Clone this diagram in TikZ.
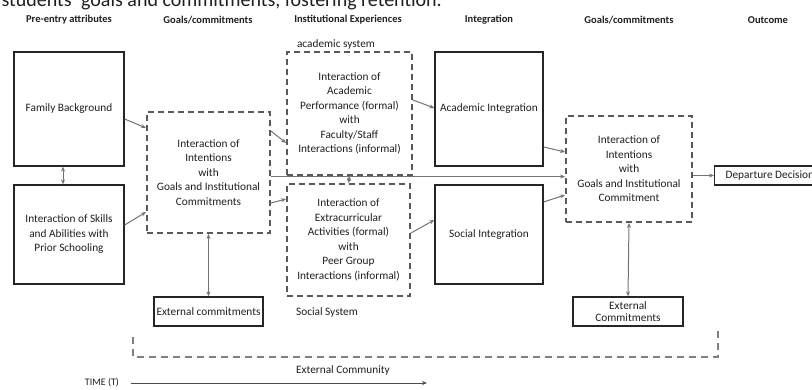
\documentclass[tikz,border=0pt]{standalone}
\usepackage{fontspec}
\setmainfont{Carlito}
\usetikzlibrary{arrows.meta}

\begin{document}
\begin{tikzpicture}[x=1pt, y=-1pt,
    every node/.style={font=\fontsize{11.3}{14.5}\selectfont, text=black!88},
    box/.style={draw=black!85, line width=1.3pt, align=center, inner sep=2pt},
    dashbox/.style={draw=black!65, line width=1.8pt, dash pattern=on 6pt off 4pt, align=center},
    header/.style={font=\fontsize{10.5}{12}\bfseries\selectfont},
    link/.style={draw=black!55, line width=1pt, -{Stealth[length=5pt, width=4pt]}},
    duallink/.style={link, {Stealth[length=5pt, width=4pt]}-{Stealth[length=5pt, width=4pt]}},
    community/.style={draw=black!50, line width=1.5pt, dash pattern=on 7pt off 5pt}]
        \useasboundingbox (0,0) rectangle (812,389);

        % cut-off caption line above the figure
        \node[anchor=base west, font=\fontsize{20}{24}\selectfont] (caption) at (-2,6)
            {students’ goals and commitments, fostering retention.};

        % column headers
        \node[header] (hpre) at (69,20) {Pre-entry attributes};
        \node[header] (hgoals) at (208,20) {Goals/commitments};
        \node[header] (hinst) at (348,20) {Institutional Experiences};
        \node[header] (hinteg) at (489,20) {Integration};
        \node[header] (hgoalsr) at (629,20) {Goals/commitments};
        \node[header] (hout) at (768,20) {Outcome};

        % pre-entry attributes
        \node[box, minimum width=110, minimum height=114] (famback) at (69,109) {Family Background};
        \node[box, minimum width=110, minimum height=99] (skills) at (69,234.5)
            {Interaction of Skills\\and Abilities with\\Prior Schooling};

        % goals and commitments
        \node[dashbox, minimum width=123, minimum height=121] (goalsl) at (208.5,172.5)
            {Interaction of\\Intentions\\with\\Goals and Institutional\\Commitments};
        \node[box, minimum width=109, minimum height=29] (extl) at (208.5,311.5) {External commitments};

        % institutional experiences
        \node (acsys) at (336,44) {academic system};
        \node[dashbox, minimum width=125, minimum height=123] (acad) at (349.5,113.5)
            {Interaction of\\Academic\\Performance (formal)\\with\\Faculty/Staff\\Interactions (informal)};
        \node[dashbox, minimum width=123, minimum height=112] (extra) at (348.5,240)
            {Interaction of\\Extracurricular\\Activities (formal)\\with\\Peer Group\\Interactions (informal)};
        \node (socsys) at (327,312) {Social System};

        % integration
        \node[box, minimum width=108, minimum height=114] (acint) at (489,109) {Academic Integration};
        \node[box, minimum width=108, minimum height=99] (socint) at (489,234.5) {Social Integration};

        % goals and commitments, later
        \node[dashbox, minimum width=126, minimum height=106] (goalsr) at (629,169)
            {Interaction of\\Intentions\\with\\Goals and Institutional\\Commitment};
        \node[box, minimum width=110, minimum height=29] (extr) at (628,311.5) {External\\[-2.5pt]Commitments};

        % outcome
        \node[box, anchor=west, inner xsep=11pt, minimum height=19] (depart) at (714,175.5) {Departure Decision};

        % connectors
        \draw[duallink] ([xshift=-6pt]famback.south) -- ([xshift=-6pt]skills.north);
        \draw[link] ([yshift=-10pt]famback.east) -- ([yshift=44.5pt]goalsl.west);
        \draw[link] ([yshift=9.5pt]skills.east) -- ([yshift=-39.5pt]goalsl.west);
        \draw[duallink] (goalsl.south) -- (extl.north);
        \draw[link] ([yshift=41.5pt]goalsl.east) -- ([yshift=-29.5pt]acad.west);
        \draw[link] ([yshift=-30.5pt]goalsl.east) -- ([yshift=41pt]extra.west);
        \draw[duallink] (acad.south) -- (extra.north);
        \draw[link] ([yshift=-4pt]goalsl.east) -- ([yshift=-4pt]goalsl.east -| goalsr.west);
        \draw[link] ([yshift=13.5pt]acad.east) -- ([yshift=1pt]acint.west);
        \draw[link] ([yshift=7pt]extra.east) -- ([yshift=14.5pt]socint.west);
        \draw[link] ([yshift=-38pt]acint.east) -- ([yshift=17pt]goalsr.west);
        \draw[link] ([yshift=32.5pt]socint.east) -- ([yshift=-26pt]goalsr.west);
        \draw[link] (goalsr.east |- depart.west) -- (depart.west);
        \draw[duallink] (goalsr.south) -- (extr.north);

        % external community and time
        \draw[community] (133,337) -- (133,357) -- (718,357) -- (718,330);
        \node (extcom) at (343,370) {External Community};
        \node[font=\fontsize{10}{11}\selectfont] (time) at (102,383) {TIME (T)};
        \coordinate (timeend) at (427,383);
        \draw[link, black!70] ([xshift=8pt]time.east) -- (timeend);
    \end{tikzpicture}
\end{document}
